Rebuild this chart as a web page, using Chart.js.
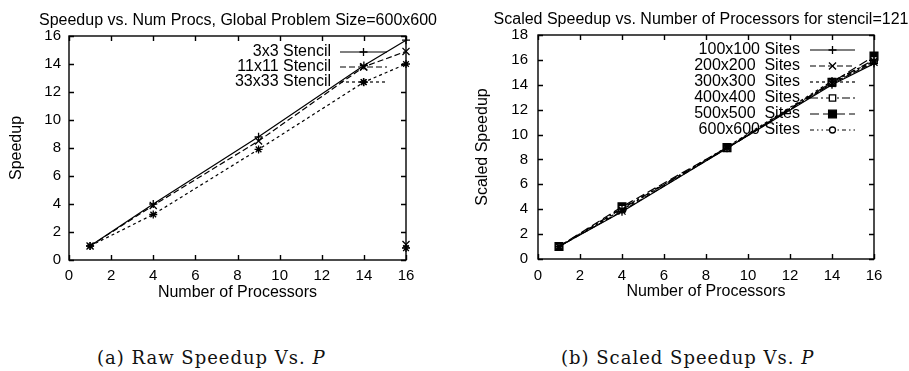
<!DOCTYPE html>
<html>
<head>
<meta charset="utf-8">
<title>Speedup charts</title>
<script src="https://cdn.jsdelivr.net/npm/chart.js@4.4.1/dist/chart.umd.min.js"></script>
<style>
    body {
        margin: 0;
        background: #fff;
        width: 909px;
        height: 371px;
        position: relative;
        overflow: hidden;
    }
    canvas {
        position: absolute;
        top: 0;
    }
    #rawChart { left: 0; }
    #scaledChart { left: 450px; }
    .caption {
        position: absolute;
        top: 349px;
        font-family: "DejaVu Serif", serif;
        font-size: 18px;
        line-height: 18px;
        letter-spacing: 1px;
        color: #111;
        white-space: nowrap;
    }
</style>
</head>
<body>
<canvas id="rawChart" width="450" height="310"></canvas>
<canvas id="scaledChart" width="459" height="310"></canvas>
<div class="caption" style="left:97px">(a) Raw Speedup Vs. <i>P</i></div>
<div class="caption" style="left:561px">(b) Scaled Speedup Vs. <i>P</i></div>

<script>
// Processor counts measured
const procs = [1, 4, 9, 14, 16];

// (a) raw speedup, 600x600 global problem
const stencil3x3 = [1.0, 4.0, 8.8, 13.9, 15.7];
const stencil11x11 = [1.0, 3.9, 8.5, 13.8, 14.9];
const stencil33x33 = [1.0, 3.25, 7.9, 12.7, 14.0];
// stray points plotted at P=16 near the bottom
const strayProc = 16;
const stray11x11 = 1.1;
const stray33x33 = 0.85;

// (b) scaled speedup, stencil=121
const sites100 = [1.0, 3.8, 8.9, 14.0, 15.7];
const sites200 = [1.0, 3.85, 8.9, 14.1, 15.8];
const sites300 = [1.0, 3.95, 9.0, 14.3, 15.9];
const sites400 = [1.0, 4.05, 8.9, 14.2, 16.0];
const sites500 = [1.0, 4.2, 8.95, 14.2, 16.3];
const sites600 = [1.0, 4.1, 8.9, 14.1, 15.9];

const rawLabels = ['3x3 Stencil', '11x11 Stencil', '33x33 Stencil'];
const scaledLabels = ['100x100 Sites', '200x200  Sites', '300x300  Sites',
                      '400x400  Sites', '500x500  Sites', '600x600 Sites'];

const ink = '#000';
const textFont = '16px "Liberation Sans", Arial, sans-serif';
Chart.defaults.font.family = '"Liberation Sans", Arial, sans-serif';
Chart.defaults.color = ink;

function toPoints(values) {
    return procs.map((p, i) => ({ x: p, y: values[i] }));
}

// a gap (null) keeps the stray point from being joined to the line
function withStray(values, stray) {
    const pts = toPoints(values);
    if (stray !== undefined) {
        pts.push({ x: strayProc, y: null });
        pts.push({ x: strayProc, y: stray });
    }
    return pts;
}

function series(label, data, dash, style, radius, fill) {
    return {
        label: label,
        data: data,
        showLine: true,
        borderColor: ink,
        borderWidth: 1.2,
        borderDash: dash,
        pointStyle: style,
        pointRadius: radius,
        pointBorderWidth: 1.3,
        pointBorderColor: ink,
        pointBackgroundColor: fill,
        spanGaps: false,
        clip: false,
        tension: 0
    };
}

/**
 * Title centred on a given x (gnuplot puts it over the plot)
 */
const plotTitle = {
    id: 'plotTitle',
    afterDraw(chart, args, opts) {
        const ctx = chart.ctx;
        ctx.save();
        ctx.font = textFont;
        ctx.fillStyle = ink;
        ctx.textAlign = 'center';
        ctx.textBaseline = 'middle';
        ctx.fillText(opts.text, opts.x, opts.y);
        ctx.restore();
    }
};

/**
 * Key inside the plot: label right-aligned, then a line sample with its marker
 */
const insideKey = {
    id: 'insideKey',
    beforeDatasetsDraw(chart, args, opts) {
        const ctx = chart.ctx;
        ctx.save();
        ctx.font = textFont;
        ctx.textAlign = 'right';
        ctx.textBaseline = 'middle';
        chart.data.datasets.forEach((ds, i) => {
            if (!ds.label) return;
            const y = opts.top + i * opts.rowGap;
            ctx.fillStyle = ink;
            ctx.setLineDash([]);
            ctx.fillText(ds.label, opts.textRight, y);

            ctx.strokeStyle = ink;
            ctx.lineWidth = ds.borderWidth;
            ctx.setLineDash(ds.borderDash || []);
            ctx.beginPath();
            ctx.moveTo(opts.lineStart, y);
            ctx.lineTo(opts.lineEnd, y);
            ctx.stroke();

            ctx.setLineDash([]);
            ctx.lineWidth = ds.pointBorderWidth;
            ctx.fillStyle = ds.pointBackgroundColor;
            Chart.helpers.drawPoint(ctx, {
                pointStyle: ds.pointStyle,
                radius: ds.pointRadius,
                rotation: 0,
                borderWidth: ds.pointBorderWidth
            }, (opts.lineStart + opts.lineEnd) / 2, y);
        });
        ctx.restore();
    }
};

/**
 * Closed border with inward tics on all four sides
 */
const gnuplotFrame = {
    id: 'gnuplotFrame',
    afterDraw(chart) {
        const { ctx, chartArea: a, scales } = chart;
        const len = 5;
        ctx.save();
        ctx.strokeStyle = ink;
        ctx.lineWidth = 1.4;
        ctx.setLineDash([]);
        ctx.strokeRect(a.left, a.top, a.right - a.left, a.bottom - a.top);
        ctx.beginPath();
        scales.x.ticks.forEach(t => {
            const px = Math.round(scales.x.getPixelForValue(t.value)) + 0.5;
            ctx.moveTo(px, a.bottom); ctx.lineTo(px, a.bottom - len);
            ctx.moveTo(px, a.top); ctx.lineTo(px, a.top + len);
        });
        scales.y.ticks.forEach(t => {
            const py = Math.round(scales.y.getPixelForValue(t.value)) + 0.5;
            ctx.moveTo(a.left, py); ctx.lineTo(a.left + len, py);
            ctx.moveTo(a.right, py); ctx.lineTo(a.right - len, py);
        });
        ctx.stroke();
        ctx.restore();
    }
};

function axes(yMax, yTitle, o) {
    return {
        x: {
            type: 'linear',
            min: 0,
            max: 16,
            grid: { display: false, drawTicks: false },
            border: { display: false },
            ticks: { stepSize: 2, padding: o.xTickPad, maxRotation: 0, font: { size: 15 } },
            title: {
                display: true,
                text: 'Number of Processors',
                font: { size: 16 },
                padding: { top: 0, bottom: o.xTitlePad }
            },
            afterFit(scale) { scale.height = o.xHeight; }
        },
        y: {
            min: 0,
            max: yMax,
            grid: { display: false, drawTicks: false },
            border: { display: false },
            ticks: { stepSize: 2, padding: o.yTickPad, font: { size: 15 } },
            title: {
                display: true,
                text: yTitle,
                font: { size: 16 },
                padding: { top: o.yTitlePad, bottom: 0 }
            },
            afterFit(scale) { scale.width = o.yWidth; }
        }
    };
}

document.addEventListener('DOMContentLoaded', function() {
    // (a) Raw speedup
    new Chart(document.getElementById('rawChart'), {
        type: 'scatter',
        data: {
            datasets: [
                series(rawLabels[0], toPoints(stencil3x3), [], 'cross', 4, ink),
                series(rawLabels[1], withStray(stencil11x11, stray11x11), [6, 3], 'crossRot', 5, ink),
                series(rawLabels[2], withStray(stencil33x33, stray33x33), [3, 3], 'star', 4, ink)
            ]
        },
        options: {
            responsive: false,
            animation: false,
            layout: { padding: { top: 36, right: 44, bottom: 0, left: 0 } },
            scales: axes(16, 'Speedup', {
                xTickPad: 7, xTitlePad: 8, xHeight: 50,
                yTickPad: 8, yTitlePad: 7, yWidth: 69
            }),
            plugins: {
                legend: { display: false },
                tooltip: { enabled: false },
                plotTitle: { text: 'Speedup vs. Num Procs, Global Problem Size=600x600', x: 238, y: 21 },
                insideKey: { textRight: 331, lineStart: 340, lineEnd: 387, top: 52, rowGap: 15 }
            }
        },
        plugins: [plotTitle, insideKey, gnuplotFrame]
    });

    // (b) Scaled speedup
    new Chart(document.getElementById('scaledChart'), {
        type: 'scatter',
        data: {
            datasets: [
                series(scaledLabels[0], toPoints(sites100), [], 'cross', 4, ink),
                series(scaledLabels[1], toPoints(sites200), [6, 3], 'crossRot', 5, ink),
                series(scaledLabels[2], toPoints(sites300), [3, 3], 'star', 4, ink),
                series(scaledLabels[3], toPoints(sites400), [8, 3, 2, 3], 'rect', 4.5, '#fff'),
                series(scaledLabels[4], toPoints(sites500), [9, 4], 'rect', 5.5, ink),
                series(scaledLabels[5], toPoints(sites600), [4, 3, 1.5, 3, 1.5, 3], 'circle', 3, '#fff')
            ]
        },
        options: {
            responsive: false,
            animation: false,
            layout: { padding: { top: 35, right: 35, bottom: 0, left: 0 } },
            scales: axes(18, 'Scaled Speedup', {
                xTickPad: 8, xTitlePad: 9, xHeight: 51,
                yTickPad: 10, yTitlePad: 23, yWidth: 88
            }),
            plugins: {
                legend: { display: false },
                tooltip: { enabled: false },
                plotTitle: { text: 'Scaled Speedup vs. Number of Processors for stencil=121', x: 251, y: 20 },
                insideKey: { textRight: 350, lineStart: 360, lineEnd: 405, top: 50, rowGap: 16 }
            }
        },
        plugins: [plotTitle, insideKey, gnuplotFrame]
    });
});
</script>
</body>
</html>
